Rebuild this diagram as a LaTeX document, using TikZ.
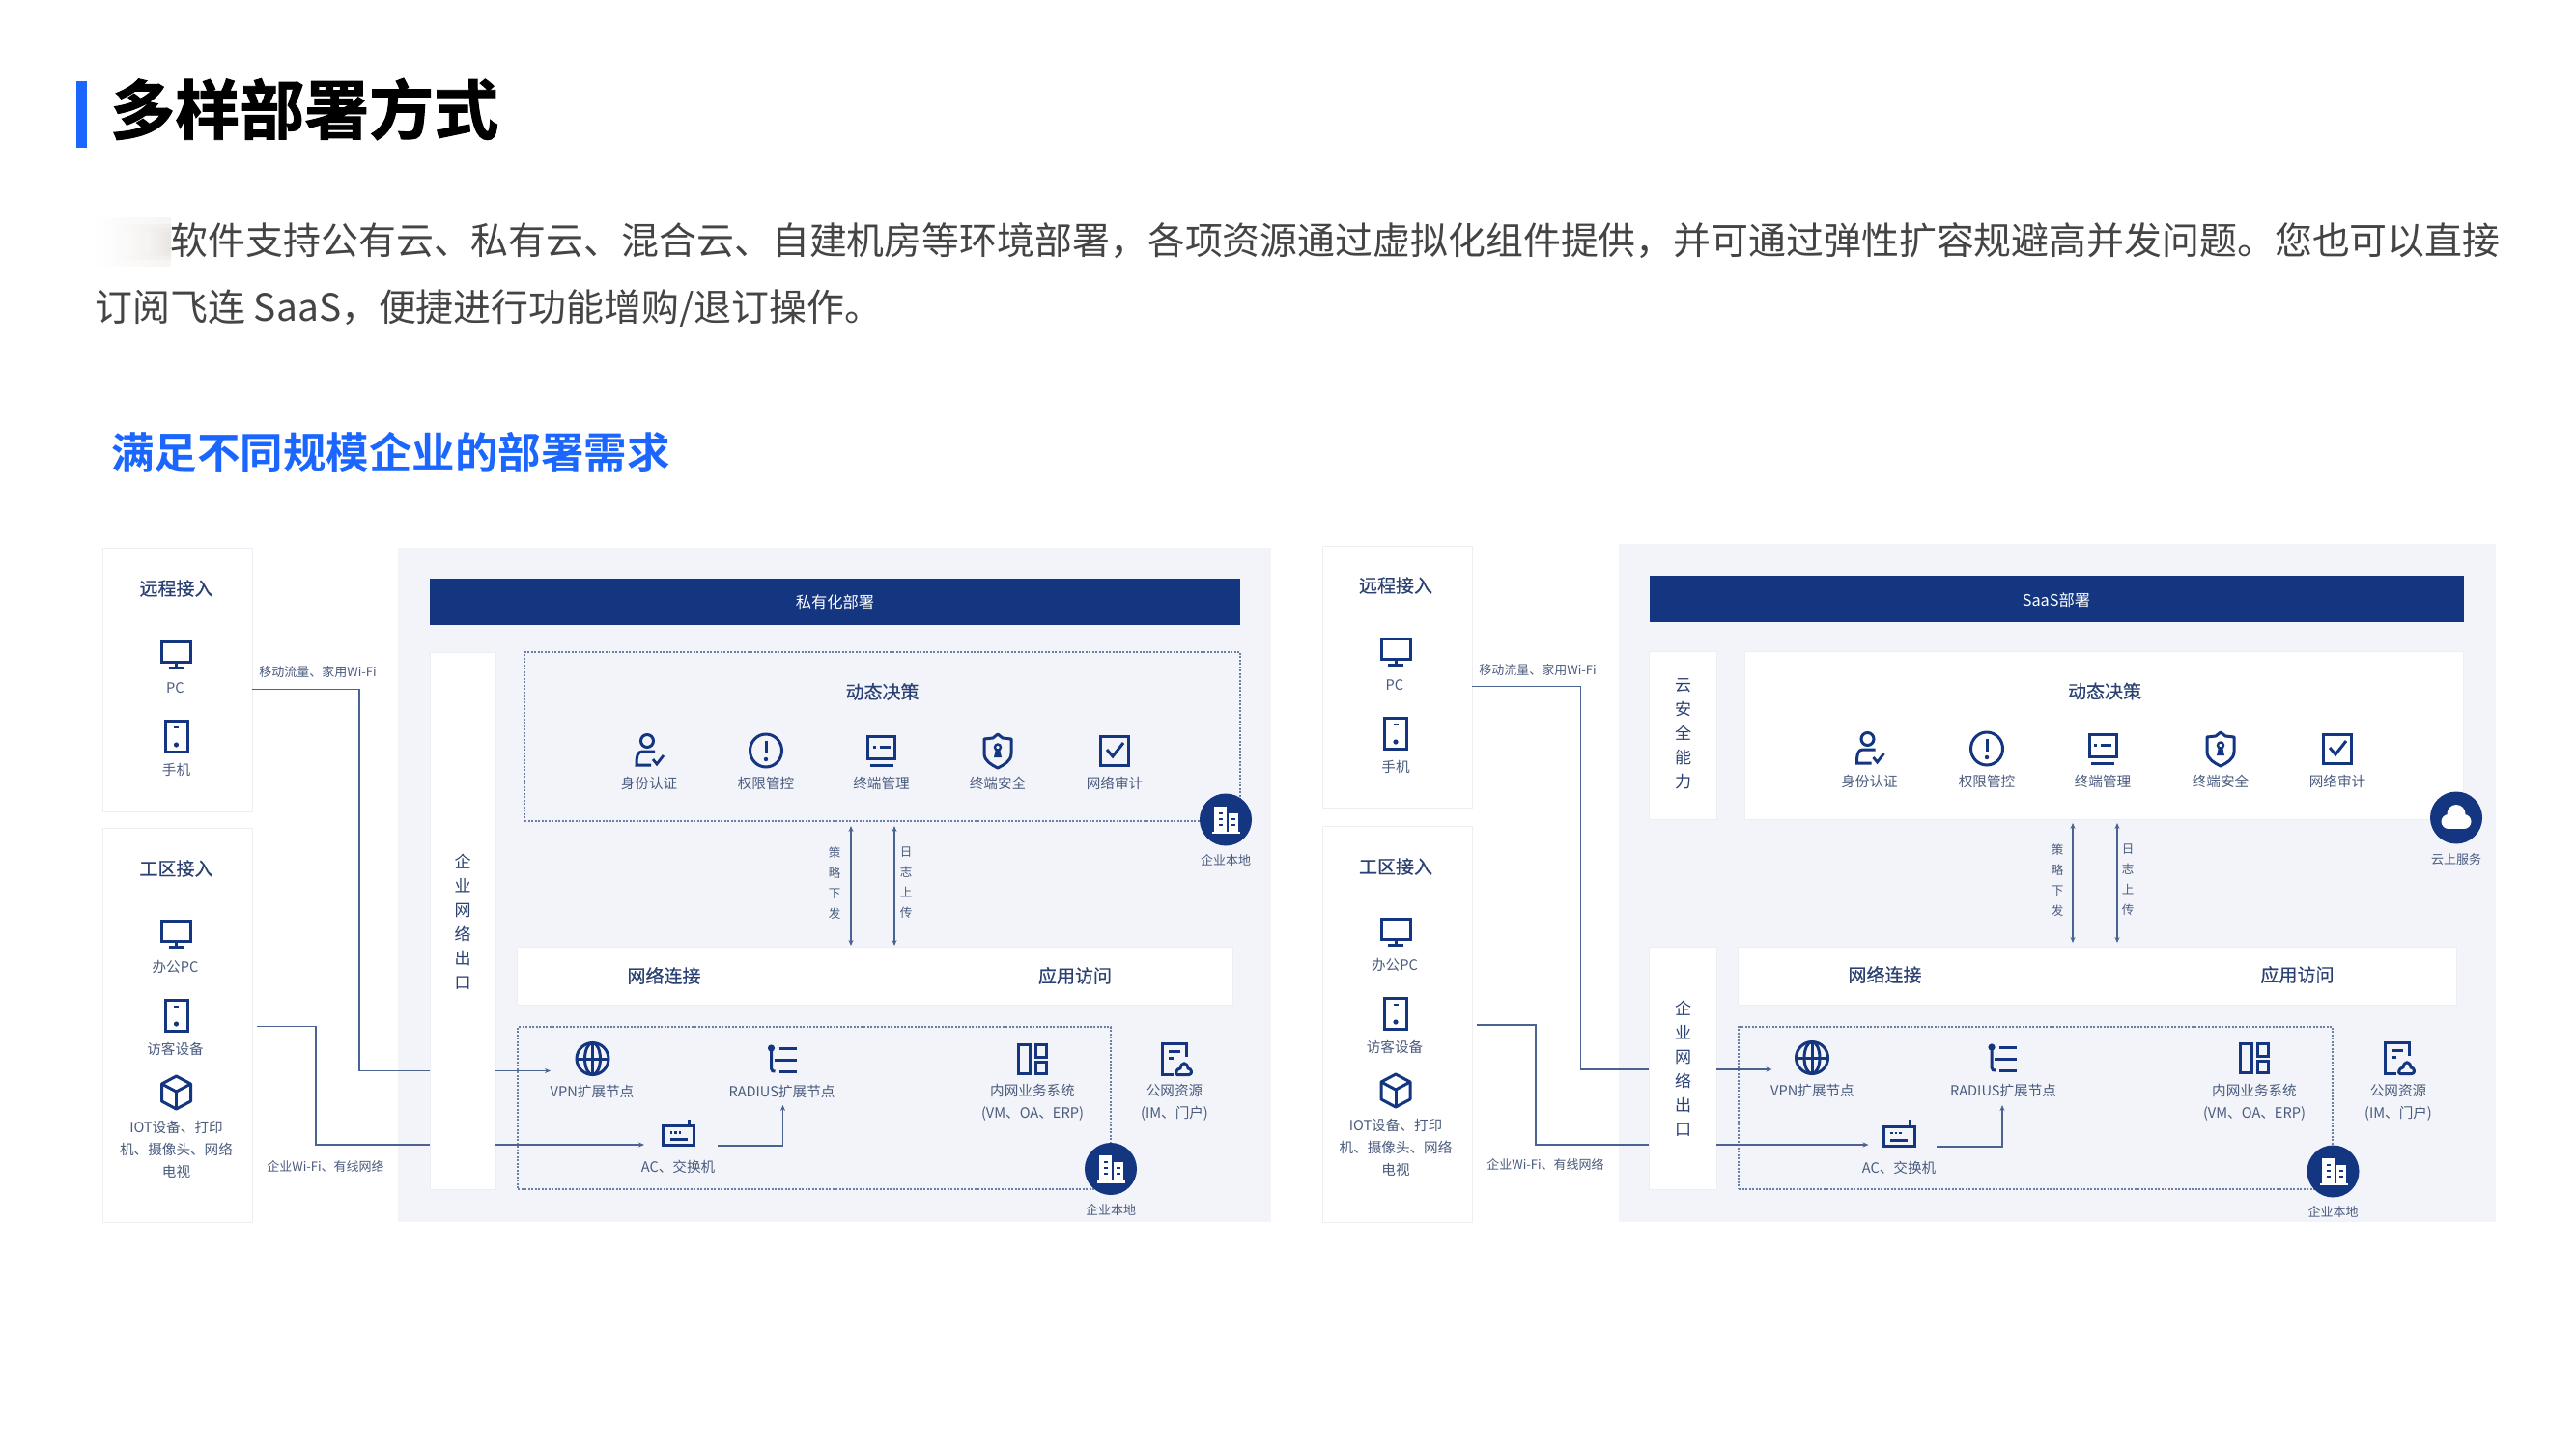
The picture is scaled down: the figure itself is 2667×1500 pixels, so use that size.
\documentclass[tikz,border=0pt]{standalone}
\usepackage{fontspec}
\setmainfont[BoldFont={Noto Sans CJK SC Bold}]{Noto Sans CJK SC}
\newfontfamily\medf[FakeBold=0.35]{Noto Sans CJK SC}
\newfontfamily\titf[FakeBold=1.4]{Noto Sans CJK SC Bold}
\newfontfamily\subf{Noto Sans CJK SC Bold}
\usetikzlibrary{arrows.meta}
\definecolor{navy}{HTML}{14357F}
\definecolor{headtxt}{HTML}{2B4173}
\definecolor{labtxt}{HTML}{4A5B7E}
\definecolor{panelbg}{HTML}{F2F4F9}
\definecolor{edgeline}{HTML}{ECEEF3}
\definecolor{wire}{HTML}{4A6391}
\definecolor{dashc}{HTML}{6B7FA3}
\definecolor{accent}{HTML}{1A66FF}
\definecolor{bodytxt}{HTML}{444444}
\definecolor{blurc}{HTML}{E4DED9}
\tikzset{
  panel/.style={fill=panelbg,draw=none},
  whitebox/.style={fill=white,draw=edgeline,line width=1pt},
  dashbox/.style={draw=dashc,line width=1.1pt,dash pattern=on 2pt off 1.5pt},
  headbar/.style={fill=navy,draw=none},
  badge/.style={circle,fill=navy,draw=none,minimum size=54pt,inner sep=0pt},
  lab/.style={font=\fontsize{14.6}{23}\selectfont,text=labtxt,align=center,inner sep=0pt},
  small/.style={font=\fontsize{13}{16}\selectfont,text=labtxt,align=center,inner sep=0pt},
  head/.style={font=\medf\fontsize{19}{25}\selectfont,text=headtxt,align=center,inner sep=0pt},
  vtxt/.style={font=\fontsize{12.5}{21}\selectfont,text=labtxt,align=center,inner sep=0pt},
  hdrtxt/.style={font=\fontsize{16.3}{18}\selectfont,text=white,inner sep=0pt},
  conn/.style={draw=wire,line width=1.4pt},
  connarrow/.style={conn,-{Stealth[length=6pt,width=5pt]}},
  dblarrow/.style={conn,{Stealth[length=6pt,width=5pt]}-{Stealth[length=6pt,width=5pt]}},
  ic/.style={draw=navy,line width=3pt},
  icmonitor/.pic={\draw[ic] (-15,-13) rectangle (15,8); \draw[ic] (0,8)--(0,13); \draw[ic] (-8,14)--(8,14);},
  icphone/.pic={\draw[ic] (-11.5,-16) rectangle (11.5,16); \draw[ic,line width=2.4pt] (-2.5,-9)--(2.5,-9); \fill[navy] (0,9) circle (2.6);},
  iccube/.pic={\draw[ic,line join=round] (0,-17)--(15,-9)--(15,9)--(0,17)--(-15,9)--(-15,-9)--cycle; \draw[ic,line join=round] (-15,-9)--(0,-1)--(15,-9); \draw[ic] (0,-1)--(0,17);},
  icuser/.pic={\draw[ic] (-1,-10) circle (6.5); \draw[ic] (7,1) -- (-6,1) .. controls (-11,1) and (-12,6) .. (-12,15) -- (3,15); \draw[ic,line width=2.8pt] (5,9)--(9,14)--(16,5);},
  icalert/.pic={\draw[ic] (0,0) ellipse (16.5 and 17); \draw[ic] (0,-10)--(0,3); \fill[navy] (0,9) circle (2.2);},
  icterm/.pic={\draw[ic] (-14,-15) rectangle (14,8); \draw[ic] (-9,-4)--(-6,-4); \draw[ic] (-2,-4)--(9,-4); \draw[ic] (-12,15)--(12,15);},
  icshield/.pic={\draw[ic,line join=round] (0,-17) -- (5,-13) -- (14,-12) -- (14,3) .. controls (14,11) and (6,15) .. (0,18) .. controls (-6,15) and (-14,11) .. (-14,3) -- (-14,-12) -- (-5,-13) -- cycle; \draw[navy,line width=2.4pt] (0,-3.5) circle (3); \fill[navy] (-2,-2)--(2,-2)--(4,7)--(-4,7)--cycle;},
  iccheck/.pic={\draw[ic] (-14.5,-15) rectangle (14.5,15); \draw[ic] (-8,-1)--(-2,6)--(9,-8);},
  icglobe/.pic={\draw[ic] (0,0) circle (16.5); \draw[ic] (0,0) ellipse (8 and 16.5); \draw[ic] (0,-16)--(0,16); \draw[ic] (-16,0)--(16,0);},
  icradius/.pic={\fill[navy] (-11,-11) circle (3.6); \draw[ic] (-11,-11)--(-11,10) .. controls (-11,13) and (-9,13) .. (-7,13); \draw[ic] (-3,-11)--(15,-11); \draw[ic] (-8,1)--(15,1); \draw[ic] (-3,13)--(15,13);},
  iclayout/.pic={\draw[ic] (-14.5,-15) rectangle (-3,15); \draw[ic] (3,-15) rectangle (14.5,-2); \draw[ic] (3,3) rectangle (14.5,15);},
  icpublic/.pic={\draw[ic] (12,-2)--(12,-16)--(-13,-16)--(-13,16)--(-1,16); \draw[ic] (-6,-8)--(6,-8); \draw[ic] (-6,-1)--(-1,-1); \draw[ic,line join=round] (3,16.5) -- (15,16.5) .. controls (19,16.5) and (18,10) .. (14,10) .. controls (13,3) and (7,3) .. (6,10) .. controls (2,10) and (0,16.5) .. (3,16.5) -- cycle;},
  icswitch/.pic={\draw[ic] (-16,-9) rectangle (16,11); \draw[ic] (11,-9)--(11,-16); \draw[navy,line width=2.6pt] (-9,-2)--(-6.5,-2) (-4.5,-2)--(-2,-2) (0,-2)--(2.5,-2); \draw[ic] (-9,5)--(9,5);},
  icbuilding/.pic={\fill[white] (-12,-14) rectangle (1,12); \fill[white] (3,-7) rectangle (13,12); \fill[white] (-14,12) rectangle (15,14.5); \draw[navy,line width=2pt] (-7,-7)--(-3,-7) (-7,-1)--(-3,-1) (-7,5)--(-3,5) (6,-1)--(10,-1) (6,5)--(10,5);},
  iccloud/.pic={\fill[white] (0,-4) circle (9.5); \fill[white] (-8,4) circle (7.5); \fill[white] (8,4) circle (7.5); \fill[white] (-8,2) rectangle (8,11.5);}
}
\newcommand{\rectnode}[6]{\pgfmathsetmacro{\rw}{#5-#3}\pgfmathsetmacro{\rh}{#6-#4}\node[#1,anchor=north west,inner sep=0pt,outer sep=0pt,minimum width=\rw pt,minimum height=\rh pt] (#2) at (#3,#4) {};}
% contents of the two access boxes: #1 prefix, #2 centre x, #3 upper group offset, #4 lower group offset
\newcommand{\accessitems}[4]{%
  \node[head] (#1remt) at (#2,#3+609) {远程接入};
  \pic at (#2,#3+677) {icmonitor};
  \node[lab] (#1pc) at (#2-1,#3+712.5) {PC};
  \pic at (#2,#3+762) {icphone};
  \node[lab] (#1mob) at (#2,#3+796.5) {手机};
  \node[head] (#1sitet) at (#2,#4+899) {工区接入};
  \pic at (#2,#4+966) {icmonitor};
  \node[lab] (#1opc) at (#2-1,#4+1001) {办公PC};
  \pic at (#2,#4+1051) {icphone};
  \node[lab] (#1gst) at (#2-1,#4+1085.5) {访客设备};
  \pic at (#2,#4+1131) {iccube};
  \node[lab] (#1iot) at (#2,#4+1190) {IOT设备、打印\\机、摄像头、网络\\电视};
}
\newcommand{\decisionrow}[7]{%
  \pic at (#2,#7) {icuser};
  \node[lab] (#1d1) at (#2+1,#7+34) {身份认证};
  \pic at (#3,#7) {icalert};
  \node[lab] (#1d2) at (#3,#7+34) {权限管控};
  \pic at (#4,#7) {icterm};
  \node[lab] (#1d3) at (#4,#7+34) {终端管理};
  \pic at (#5,#7) {icshield};
  \node[lab] (#1d4) at (#5,#7+34) {终端安全};
  \pic at (#6,#7) {iccheck};
  \node[lab] (#1d5) at (#6,#7+34) {网络审计};
}
\begin{document}
\begin{tikzpicture}[x=1pt,y=-1pt]
\useasboundingbox (0,0) rectangle (2667,1500);
\fill[white] (0,0) rectangle (2667,1500);
% ---- heading
\fill[accent] (79,84) rectangle (90,153);
\node[anchor=west,inner sep=0pt,font=\titf\fontsize{67}{70}\selectfont,text=black] (title) at (114,113) {多样部署方式};
\foreach \a/\b in {98/225,112/232,130/236,150/240}{
  \shade[left color=white,right color=blurc,fill opacity=0.3] (\a,\b) rectangle (177,500-\b);
}
\node[anchor=west,inner sep=0pt,font=\fontsize{38.9}{44}\selectfont,text=bodytxt] (para1) at (176.5,249) {软件支持公有云、私有云、混合云、自建机房等环境部署，各项资源通过虚拟化组件提供，并可通过弹性扩容规避高并发问题。您也可以直接};
\node[anchor=west,inner sep=0pt,font=\fontsize{38.9}{44}\selectfont,text=bodytxt] (para2) at (98.5,320) {订阅飞连 SaaS，便捷进行功能增购/退订操作。};
\node[anchor=west,inner sep=0pt,font=\subf\fontsize{44.5}{48}\selectfont,text=accent] (subtitle) at (115,468) {满足不同规模企业的部署需求};
% ---- left diagram
\rectnode{panel}{panelL}{412}{567}{1316}{1265}
\rectnode{whitebox}{remoteL}{106}{567}{261}{840}
\rectnode{whitebox}{siteL}{106}{857}{261}{1265}
\rectnode{headbar}{hdrL}{444.5}{599}{1284}{647}
\node[hdrtxt] (hdrLt) at (864.5,623) {私有化部署};
\rectnode{whitebox}{colL}{445}{675}{513}{1231}
\node[head,font=\fontsize{17}{25}\selectfont,text=headtxt] (colLt) at (479,954) {企\\业\\网\\络\\出\\口};
\rectnode{dashbox}{dynL}{543}{675}{1284}{850}
\rectnode{whitebox}{barL}{535}{980}{1276}{1040}
\rectnode{dashbox}{netL}{536}{1063}{1150}{1231}
\accessitems{L}{182.5}{0}{0}
\node[head] (dynLt) at (913.5,716) {动态决策};
\decisionrow{L}{671}{793}{912.5}{1033}{1154}{777}
\node[head] (netLt) at (687.5,1010) {网络连接};
\node[head] (appLt) at (1113,1010) {应用访问};
\pic at (613.5,1096) {icglobe};
\node[lab] (vpnL) at (613,1130) {VPN扩展节点};
\pic at (809.5,1096) {icradius};
\node[lab] (radL) at (809.5,1130) {RADIUS扩展节点};
\pic at (702.5,1174.5) {icswitch};
\node[lab] (acL) at (702,1208) {AC、交换机};
\pic at (1069,1096) {iclayout};
\node[lab] (bizL) at (1069,1141) {内网业务系统\\(VM、OA、ERP)};
\pic at (1216,1096) {icpublic};
\node[lab] (pubL) at (1216,1141) {公网资源\\(IM、门户)};
\node[badge] (dynbL) at (1269,848.5) {};
\pic at (1269,848.5) {icbuilding};
\node[small] (dynbLt) at (1269,890.5) {企业本地};
\node[badge] (netbL) at (1150,1210) {};
\pic at (1150,1210) {icbuilding};
\node[small] (netbLt) at (1150,1252) {企业本地};
\node[vtxt] (polL) at (864,914) {策\\略\\下\\发};
\node[vtxt] (logL) at (938,914) {日\\志\\上\\传};
\node[small] (wifiL) at (329,695.5) {移动流量、家用Wi-Fi};
\node[small] (lanL) at (337,1207.5) {企业Wi-Fi、有线网络};
\coordinate (a1L) at (261,713.5);
\coordinate (b1L) at (372,1108.5);
\coordinate (c1L) at (570,1108.5);
\coordinate (a2L) at (266,1062.5);
\coordinate (b2L) at (327,1185);
\coordinate (c2L) at (667,1185);
\coordinate (d2L) at (743,1186);
\coordinate (e2L) at (810.5,1144);
\coordinate (pa1L) at (881,855);
\coordinate (pa2L) at (881,979);
\coordinate (pb1L) at (926,855);
\coordinate (pb2L) at (926,979);
\draw[conn] (a1L) -| (b1L) -- (b1L -| colL.west);
\draw[connarrow] (b1L -| colL.east) -- (c1L);
\draw[conn] (a2L) -| (b2L) -- (b2L -| colL.west);
\draw[connarrow] (b2L -| colL.east) -- (c2L);
\draw[connarrow] (d2L) -| (e2L);
\draw[dblarrow] (pa1L) -- (pa2L);
\draw[dblarrow] (pb1L) -- (pb2L);
% ---- right diagram
\rectnode{panel}{panelR}{1676}{563}{2584}{1265}
\rectnode{whitebox}{remoteR}{1369.5}{565}{1524}{836}
\rectnode{whitebox}{siteR}{1369.5}{855}{1524}{1265}
\rectnode{headbar}{hdrR}{1708}{596}{2551}{644}
\node[hdrtxt] (hdrRt) at (2129,621) {SaaS部署};
\rectnode{whitebox}{secR}{1707}{674}{1777}{848}
\node[head,font=\fontsize{17}{25}\selectfont,text=headtxt] (secRt) at (1742.5,759.5) {云\\安\\全\\能\\力};
\rectnode{whitebox}{dynR}{1806}{674}{2550}{848}
\rectnode{whitebox}{colR}{1707}{980}{1777}{1231}
\node[head,font=\fontsize{17}{25}\selectfont,text=headtxt] (colRt) at (1742.5,1106.5) {企\\业\\网\\络\\出\\口};
\rectnode{whitebox}{barR}{1799}{980}{2543}{1040}
\rectnode{dashbox}{netR}{1800}{1063}{2415}{1231}
\accessitems{R}{1445}{-3}{-2}
\node[head] (dynRt) at (2179,715.5) {动态决策};
\decisionrow{R}{1934.5}{2057}{2177}{2299}{2420}{775}
\node[head] (netRt) at (1951.5,1009) {网络连接};
\node[head] (appRt) at (2378.5,1009) {应用访问};
\pic at (1876,1095) {icglobe};
\node[lab] (vpnR) at (1876.5,1129) {VPN扩展节点};
\pic at (2073,1095) {icradius};
\node[lab] (radR) at (2074,1129) {RADIUS扩展节点};
\pic at (1966,1175) {icswitch};
\node[lab] (acR) at (1966,1208.5) {AC、交换机};
\pic at (2334,1095) {iclayout};
\node[lab] (bizR) at (2334,1141) {内网业务系统\\(VM、OA、ERP)};
\pic at (2482,1095) {icpublic};
\node[lab] (pubR) at (2483,1141) {公网资源\\(IM、门户)};
\node[badge] (dynbR) at (2543,846.5) {};
\pic at (2543,846.5) {iccloud};
\node[small] (dynbRt) at (2543,889.5) {云上服务};
\node[badge] (netbR) at (2415.5,1212.5) {};
\pic at (2415.5,1212.5) {icbuilding};
\node[small] (netbRt) at (2415.5,1254) {企业本地};
\node[vtxt] (polR) at (2130,911) {策\\略\\下\\发};
\node[vtxt] (logR) at (2203,911) {日\\志\\上\\传};
\node[small] (wifiR) at (1592,693.5) {移动流量、家用Wi-Fi};
\node[small] (lanR) at (1600,1205.5) {企业Wi-Fi、有线网络};
\coordinate (a1R) at (1524,710.5);
\coordinate (b1R) at (1636.5,1107);
\coordinate (c1R) at (1834.5,1107);
\coordinate (a2R) at (1528.5,1061);
\coordinate (b2R) at (1590,1185);
\coordinate (c2R) at (1934.5,1185);
\coordinate (d2R) at (2005,1187);
\coordinate (e2R) at (2073,1144);
\coordinate (pa1R) at (2146,852);
\coordinate (pa2R) at (2146,976);
\coordinate (pb1R) at (2192,852);
\coordinate (pb2R) at (2192,976);
\draw[conn] (a1R) -| (b1R) -- (b1R -| colR.west);
\draw[connarrow] (b1R -| colR.east) -- (c1R);
\draw[conn] (a2R) -| (b2R) -- (b2R -| colR.west);
\draw[connarrow] (b2R -| colR.east) -- (c2R);
\draw[connarrow] (d2R) -| (e2R);
\draw[dblarrow] (pa1R) -- (pa2R);
\draw[dblarrow] (pb1R) -- (pb2R);
\end{tikzpicture}
\end{document}
